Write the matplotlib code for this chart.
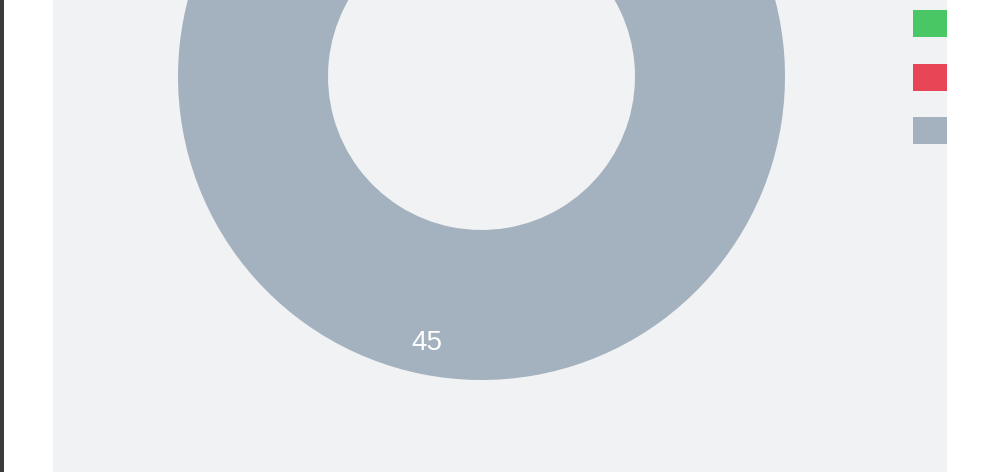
import numpy as np
from matplotlib import pyplot as plt
from matplotlib.patches import Rectangle

# data
labels = ['Passed', 'Failed', 'Skipped']
values = [2, 1, 45]
colors = ['#48c764', '#e84556', '#a4b1bf']

W, H = 991, 472
card_bg = '#f1f2f4'

fig = plt.figure(figsize=(W / 100, H / 100), dpi=100)
fig.patch.set_facecolor('white')
ax = fig.add_axes([0, 0, 1, 1])
ax.axis('off')

# card background and left dark edge
card = Rectangle((53, 0), 894, H, facecolor=card_bg, edgecolor='none', zorder=0)
ax.add_patch(card)
ax.add_patch(Rectangle((0, 0), 4, H, facecolor='#3a3a3a', edgecolor='none', zorder=0))

# donut
cx, cy = 481.5, H - 76.5
r_out, r_in = 303.5, 153.5
wedges, _ = ax.pie(values, colors=colors, startangle=90, counterclock=False,
                   center=(cx, cy), radius=r_out,
                   wedgeprops=dict(width=r_out - r_in, linewidth=0))
for w in wedges:
    w.set_clip_path(card)

# value labels (only those that land inside the visible card)
for w, v in zip(wedges, values):
    ang = np.deg2rad((w.theta1 + w.theta2) / 2)
    rr = 0.885 * r_out
    x = cx + rr * np.cos(ang)
    y = cy + rr * np.sin(ang)
    if not (0 < y < H - 15):
        continue
    ax.text(x - 2, y, str(v), color='white', fontsize=20,
            family='Liberation Sans', ha='center', va='center_baseline')

# legend boxes (text is cut off by the card edge)
for i, (lab, c) in enumerate(zip(labels, colors)):
    y_top = 10 + i * 53.5
    box = Rectangle((912.5, H - y_top - 27), 40, 27, facecolor=c,
                    edgecolor='none', label=lab)
    ax.add_patch(box)
    box.set_clip_path(card)

ax.set_xlim(0, W)
ax.set_ylim(0, H)
ax.set_aspect('auto')

fig.savefig('out.png', dpi=100, facecolor=fig.get_facecolor())
